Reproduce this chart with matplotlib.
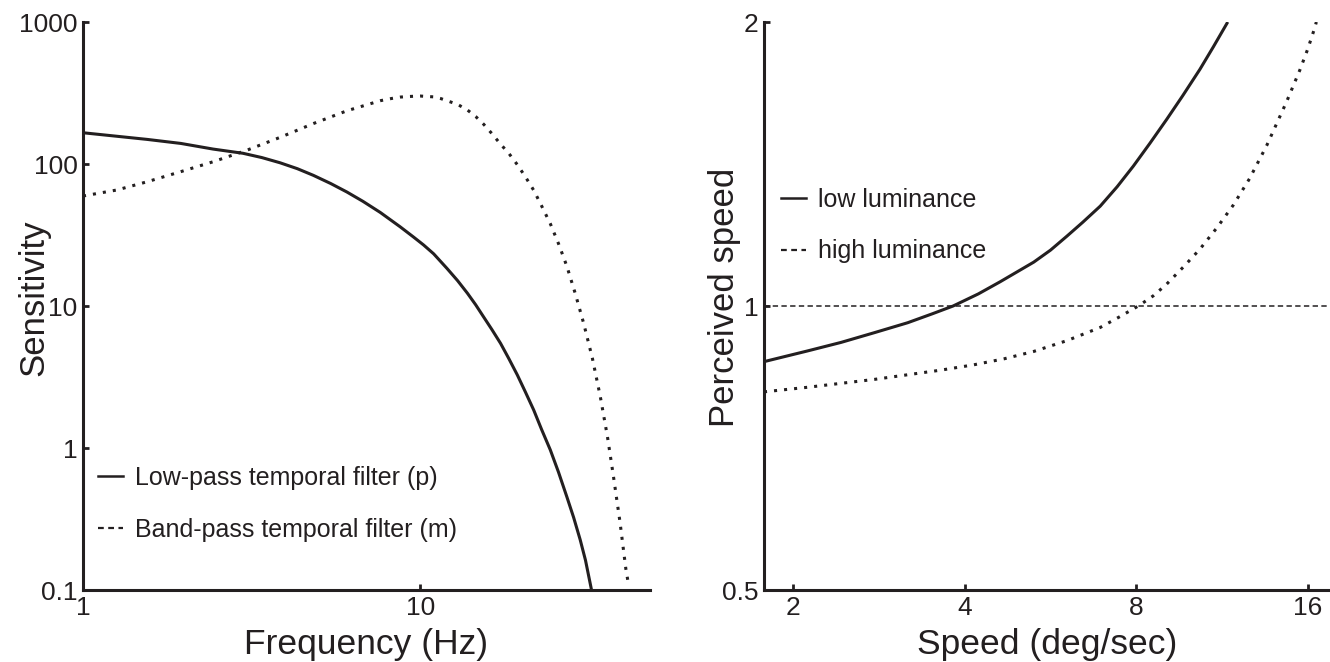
import matplotlib
matplotlib.use("Agg")
import matplotlib.pyplot as plt
from matplotlib.lines import Line2D

plt.rcParams['font.family'] = ['Liberation Sans', 'DejaVu Sans']

INK = '#231f20'

# ---- Left panel: temporal filters ----
freq_lp = [1.0, 1.55, 1.95, 2.43, 2.98, 3.39, 3.84, 4.32, 4.82, 5.43, 6.06, 6.76, 7.61, 8.72,
           9.55, 10.23, 10.96, 12.0, 12.9, 13.8, 14.6, 15.4, 16.3, 17.3, 18.3, 19.4, 20.5,
           21.7, 22.9, 24.3, 25.7, 27.2, 28.5, 29.8, 30.9, 32.2]
sens_lp = [166, 149, 139.6, 127.4, 119, 111, 102, 92.7, 83.2, 72.8, 63.5, 54.6, 45.6, 36.1,
           30.6, 26.9, 23.3, 18.4, 15.1, 12.3, 10.2, 8.4, 6.84, 5.46, 4.27, 3.27, 2.48,
           1.85, 1.35, 0.97, 0.676, 0.454, 0.324, 0.226, 0.162, 0.10]

freq_bp = [1.0, 1.26, 1.55, 1.94, 2.44, 3.06, 3.84, 4.83, 6.06, 7.61, 8.2, 8.72, 9.3, 10.0,
           10.96, 11.5, 12.0, 12.9, 13.8, 14.6, 15.4, 16.3, 17.3, 18.3, 19.4, 20.5, 21.7,
           22.9, 24.3, 25.7, 27.2, 28.8, 30.5, 32.4, 34.2, 35.9, 37.4, 39.1, 40.7, 41.3]
sens_bp = [59.5, 65.6, 75, 88, 104, 125, 154, 193, 237, 279, 289, 296, 299, 301,
           297, 289, 279, 263, 240, 216, 191, 164, 138, 119, 98.9, 81.3, 65.3,
           50.7, 38.0, 27.5, 19.1, 12.3, 7.59, 4.27, 2.29, 1.20, 0.631, 0.302, 0.141, 0.115]

left_xticks = [1, 10]
left_xticklabels = ['1', '10']
left_yticks = [0.1, 1, 10, 100, 1000]
left_yticklabels = ['0.1', '1', '10', '100', '1000']
left_labels = ['Low-pass temporal filter (p)', 'Band-pass temporal filter (m)']

# ---- Right panel: perceived speed ----
speed_low = [1.78, 2.12, 2.43, 2.78, 3.18, 3.51, 3.82, 4.23, 4.62, 5.29, 5.66, 6.05, 6.45,
             6.92, 7.41, 7.91, 8.46, 9.05, 9.65, 10.35, 10.93, 11.58]
perc_low = [0.873, 0.896, 0.915, 0.937, 0.960, 0.981, 1.0, 1.03, 1.061, 1.113, 1.146, 1.186,
            1.227, 1.276, 1.338, 1.407, 1.488, 1.577, 1.67, 1.782, 1.883, 2.0]

speed_high = [1.78, 2.12, 2.78, 3.63, 4.14, 4.69, 5.29, 6.05, 6.92, 7.46, 8.07, 8.57, 9.05,
              9.71, 10.35, 11.08, 11.84, 12.64, 13.55, 14.69, 15.49, 16.0, 16.46, 16.56]
perc_high = [0.811, 0.820, 0.836, 0.855, 0.866, 0.879, 0.895, 0.919, 0.949, 0.973, 1.0, 1.025,
             1.055, 1.102, 1.149, 1.21, 1.279, 1.364, 1.479, 1.647, 1.778, 1.873, 1.973, 2.0]

right_xticks = [2, 4, 8, 16]
right_xticklabels = ['2', '4', '8', '16']
right_yticks = [0.5, 1, 2]
right_yticklabels = ['0.5', '1', '2']
right_labels = ['low luminance', 'high luminance']
reference_level = 1.0

W, H = 1330, 662
fig = plt.figure(figsize=(W / 100, H / 100), dpi=100)

def px_axes(x0, y_top, x1, y_bot):
    return fig.add_axes([x0 / W, 1 - y_bot / H, (x1 - x0) / W, (y_bot - y_top) / H])

axL = px_axes(83, 22, 650, 590)
axR = px_axes(764, 22, 1330, 590)

LW = 2.2
dot_style = (0, (1.0, 2.3))

for ax in (axL, axR):
    for s in ('top', 'right'):
        ax.spines[s].set_visible(False)
    for s in ('left', 'bottom'):
        ax.spines[s].set_linewidth(2.2)
        ax.spines[s].set_color(INK)
    ax.tick_params(which='major', direction='in', length=4.5, width=2.0, pad=4,
                   labelsize=19, colors=INK)
    ax.tick_params(which='minor', length=0)
    ax.set_facecolor('none')

LEG = dict(loc='upper left', frameon=False, fontsize=18, handlelength=1.0,
           handletextpad=0.48, labelspacing=1.1, borderpad=0, borderaxespad=0,
           labelcolor=INK)

# Left
axL.plot(freq_lp, sens_lp, color=INK, lw=LW, solid_capstyle='butt', solid_joinstyle='round')
axL.plot(freq_bp, sens_bp, color=INK, lw=LW, linestyle=dot_style, dash_capstyle='butt')
axL.set_xscale('log')
axL.set_yscale('log')
axL.set_xlim(1, 48)
axL.set_ylim(0.1, 1000)
axL.set_xticks(left_xticks)
axL.set_xticklabels(left_xticklabels)
axL.set_yticks(left_yticks)
axL.set_yticklabels(left_yticklabels)
axL.minorticks_off()
axL.set_xlabel('Frequency (Hz)', fontsize=25.5, color=INK)
axL.set_ylabel('Sensitivity', fontsize=25, color=INK, va='center')
axL.yaxis.set_label_coords(-0.087, 0.515)
axL.xaxis.set_label_coords(0.5, -0.096)
axL.xaxis.label.set_va('center')

hL = [Line2D([], [], color=INK, lw=1.8),
      Line2D([], [], color=INK, lw=1.6, linestyle=(0, (2.6, 2.0)))]
axL.legend(hL, left_labels, bbox_to_anchor=(0.026, 0.218), **LEG)

# Right
axR.axhline(reference_level, color=INK, lw=1.1, linestyle=(0, (3.5, 2.2)))
axR.plot(speed_low, perc_low, color=INK, lw=LW, solid_capstyle='butt', solid_joinstyle='round')
axR.plot(speed_high, perc_high, color=INK, lw=LW, linestyle=dot_style, dash_capstyle='butt')
axR.set_xscale('log', base=2)
axR.set_yscale('log', base=2)
axR.set_xlim(1.78, 17.5)
axR.set_ylim(0.5, 2)
axR.set_xticks(right_xticks)
axR.set_xticklabels(right_xticklabels)
axR.set_yticks(right_yticks)
axR.set_yticklabels(right_yticklabels)
axR.minorticks_off()
axR.set_xlabel('Speed (deg/sec)', fontsize=25.5, color=INK)
axR.set_ylabel('Perceived speed', fontsize=25, color=INK, va='center')
axR.yaxis.set_label_coords(-0.07, 0.515)
axR.xaxis.set_label_coords(0.5, -0.096)
axR.xaxis.label.set_va('center')

hR = [Line2D([], [], color=INK, lw=1.8),
      Line2D([], [], color=INK, lw=1.6, linestyle=(0, (2.6, 2.0)))]
axR.legend(hR, right_labels, bbox_to_anchor=(0.030, 0.708), **LEG)

fig.savefig('out.png', dpi=100)
